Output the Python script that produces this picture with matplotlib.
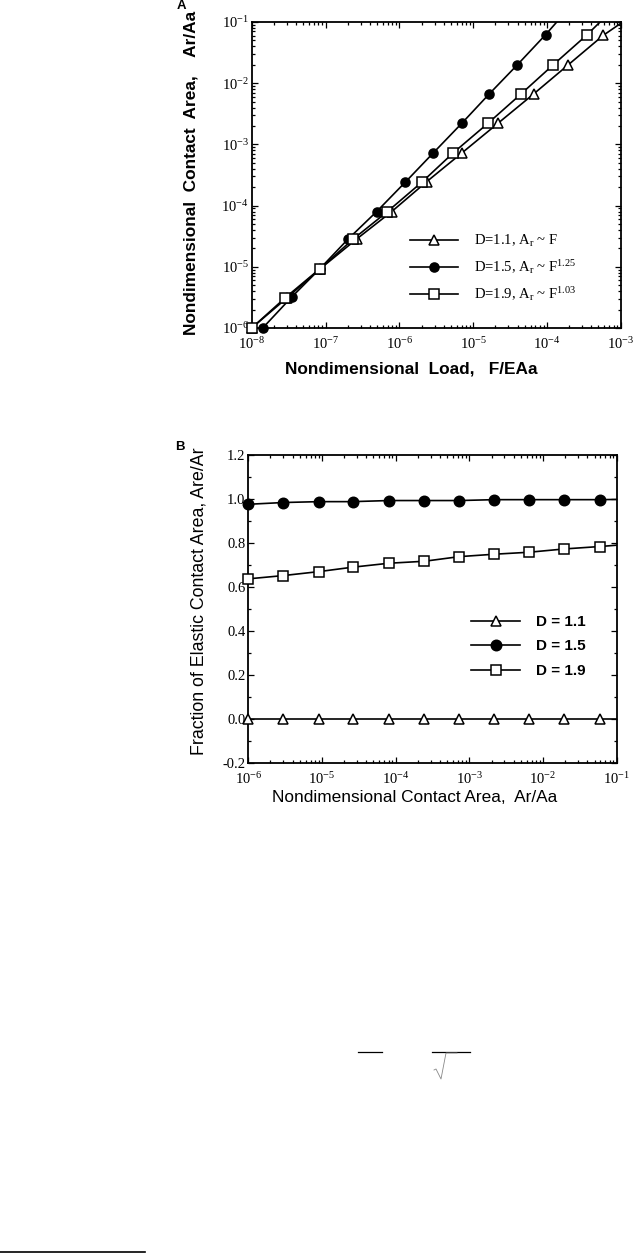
import numpy as np
import matplotlib
matplotlib.use('Agg')
import matplotlib.pyplot as plt
from matplotlib.lines import Line2D
from matplotlib.ticker import LogLocator, MultipleLocator, FormatStrFormatter, NullFormatter

plt.rcParams['font.family'] = 'Liberation Serif'
plt.rcParams['mathtext.fontset'] = 'custom'
plt.rcParams['mathtext.rm'] = 'Liberation Serif'
plt.rcParams['mathtext.it'] = 'Liberation Serif:italic'
plt.rcParams['axes.unicode_minus'] = False

# ---- Panel A data: contact area vs load ----
load_d11 = [1e-8, 3e-8, 8.5e-8, 2.65e-7, 7.9e-7, 2.35e-6, 7.0e-6, 2.2e-5, 6.6e-5, 1.95e-4, 5.8e-4]
area_d11 = [1e-6, 3.1e-6, 9.3e-6, 2.85e-5, 8.0e-5, 2.46e-4, 7.2e-4, 2.24e-3, 6.66e-3, 2.0e-2, 6.05e-2]
load_d15 = [1.41e-8, 3.48e-8, 8.4e-8, 2.0e-7, 4.94e-7, 1.2e-6, 2.9e-6, 7.0e-6, 1.64e-5, 3.98e-5, 9.6e-5]
area_d15 = [1e-6, 3.2e-6, 9.3e-6, 2.8e-5, 8.0e-5, 2.4e-4, 7.3e-4, 2.2e-3, 6.6e-3, 2.0e-2, 6.2e-2]
load_d19 = [1e-8, 2.83e-8, 8.4e-8, 2.34e-7, 6.75e-7, 2.01e-6, 5.4e-6, 1.61e-5, 4.42e-5, 1.22e-4, 3.46e-4]
area_d19 = [1e-6, 3.1e-6, 9.3e-6, 2.8e-5, 7.8e-5, 2.4e-4, 7.3e-4, 2.24e-3, 6.6e-3, 2.0e-2, 6.1e-2]
# where each fitted line leaves the frame
end_load = {'1.1': 1e-3, '1.5': 1.36e-4, '1.9': 5.25e-4}
end_area = {'1.1': 9.5e-2, '1.5': 1e-1, '1.9': 1e-1}

# ---- Panel B data: elastic fraction vs contact area ----
area_b = [1e-6, 3e-6, 9.1e-6, 2.6e-5, 8.1e-5, 2.45e-4, 7.3e-4, 2.18e-3, 6.46e-3, 1.95e-2, 5.9e-2]
frac_d11 = [0.0] * 11
frac_d15 = [0.976, 0.984, 0.988, 0.988, 0.993, 0.993, 0.993, 0.997, 0.997, 0.997, 0.997]
frac_d19 = [0.637, 0.652, 0.670, 0.690, 0.708, 0.717, 0.738, 0.749, 0.758, 0.773, 0.784]
end_frac = {'1.1': 0.0, '1.5': 0.998, '1.9': 0.79}

labels_a = [r'D=1.1, $\mathrm{A_r}$ ~ F',
            r'D=1.5, $\mathrm{A_r}$ ~ F$^{1.25}$',
            r'D=1.9, $\mathrm{A_r}$ ~ F$^{1.03}$']
labels_b = ['D = 1.1', 'D = 1.5', 'D = 1.9']

styles = {'1.1': dict(marker='^', mfc='white'),
          '1.5': dict(marker='o', mfc='black'),
          '1.9': dict(marker='s', mfc='white')}

fig = plt.figure(figsize=(6.42, 12.53), dpi=100)
W, H = 642, 1253


def px_axes(l, t, r, b):
    return fig.add_axes([l / W, 1 - b / H, (r - l) / W, (b - t) / H])


def style_ticks(ax):
    ax.tick_params(which='both', direction='in', top=True, right=True, width=0.9,
                   labelsize=10.5)
    ax.tick_params(which='major', length=4.5)
    ax.tick_params(which='minor', length=2.5)
    ax.tick_params(axis='x', pad=6)
    ax.tick_params(axis='y', pad=2)
    for s in ax.spines.values():
        s.set_linewidth(1.3)


# ---------------- Panel A ----------------
ax1 = px_axes(251.7, 22, 620.7, 328)
ax1.set_xscale('log')
ax1.set_yscale('log')
ax1.set_xlim(1e-8, 1e-3)
ax1.set_ylim(1e-6, 1e-1)

handles_a = []
for key, xs, ys, ms in [('1.1', load_d11, area_d11, 6.5),
                        ('1.5', load_d15, area_d15, 6.5),
                        ('1.9', load_d19, area_d19, 6.5)]:
    ax1.plot(xs + [end_load[key]], ys + [end_area[key]], color='black', lw=1.2, zorder=2)
    ax1.plot(xs, ys, ls='none', color='black', mec='black', mew=1.1, ms=ms,
             clip_on=False, zorder=3, **styles[key])
    handles_a.append(Line2D([], [], color='black', lw=1.2, mec='black', mew=1.1, ms=ms,
                            **styles[key]))

ax1.xaxis.set_major_locator(LogLocator(base=10, numticks=10))
ax1.yaxis.set_major_locator(LogLocator(base=10, numticks=10))
ax1.xaxis.set_minor_locator(LogLocator(base=10, subs=np.arange(2, 10), numticks=20))
ax1.yaxis.set_minor_locator(LogLocator(base=10, subs=np.arange(2, 10), numticks=20))
ax1.xaxis.set_minor_formatter(NullFormatter())
ax1.yaxis.set_minor_formatter(NullFormatter())
style_ticks(ax1)

ax1.set_xlabel('Nondimensional  Load,   F/EAa', family='Liberation Sans',
               weight='bold', fontsize=12.4)
ax1.set_ylabel('Nondimensional  Contact  Area,    Ar/Aa', family='Liberation Sans',
               weight='bold', fontsize=12.4)
ax1.xaxis.set_label_coords(0.432, -0.108)
ax1.yaxis.set_label_coords(-0.143, 0.508)

ax1.legend(handles_a, labels_a, loc='upper left', bbox_to_anchor=(0.41, 0.335),
           frameon=False, fontsize=10.5, handlelength=3.3, handletextpad=1.1,
           labelspacing=0.62, borderpad=0)

fig.text(177 / W, 1 - 6 / H, 'A', family='Liberation Sans', weight='bold',
         fontsize=9.5, ha='left', va='center')

# ---------------- Panel B ----------------
ax2 = px_axes(248.3, 455, 616.7, 763)
ax2.set_xscale('log')
ax2.set_xlim(1e-6, 1e-1)
ax2.set_ylim(-0.2, 1.2)

handles_b = []
for key, ys, ms in [('1.1', frac_d11, 7), ('1.5', frac_d15, 7.5), ('1.9', frac_d19, 7.5)]:
    ax2.plot(area_b + [1e-1], ys + [end_frac[key]], color='black', lw=1.2, zorder=2)
    ax2.plot(area_b, ys, ls='none', color='black', mec='black', mew=1.1, ms=ms,
             clip_on=False, zorder=3, **styles[key])
    handles_b.append(Line2D([], [], color='black', lw=1.2, mec='black', mew=1.1, ms=ms,
                            **styles[key]))

ax2.xaxis.set_major_locator(LogLocator(base=10, numticks=10))
ax2.xaxis.set_minor_locator(LogLocator(base=10, subs=np.arange(2, 10), numticks=20))
ax2.xaxis.set_minor_formatter(NullFormatter())
ax2.yaxis.set_major_locator(MultipleLocator(0.2))
ax2.yaxis.set_minor_locator(MultipleLocator(0.1))
ax2.yaxis.set_major_formatter(FormatStrFormatter('%.1f'))
style_ticks(ax2)

ax2.set_xlabel('Nondimensional Contact Area,  Ar/Aa', family='Liberation Sans',
               fontsize=12.4)
ax2.set_ylabel('Fraction of Elastic Contact Area, Are/Ar', family='Liberation Sans',
               fontsize=12.8)
ax2.xaxis.set_label_coords(0.452, -0.088)
ax2.yaxis.set_label_coords(-0.112, 0.526)

ax2.legend(handles_b, labels_b, loc='upper left', bbox_to_anchor=(0.585, 0.505),
           frameon=False, prop=dict(family='Liberation Sans', weight='bold', size=11),
           handlelength=3.2, handletextpad=1.0, labelspacing=0.68, borderpad=0)

fig.text(175 / W, 1 - 447 / H, 'B', family='Liberation Sans', weight='bold',
         fontsize=9.5, ha='left', va='center')

# stray page marks below the figure
for (x0, y0, x1, y1, c, lw) in [(358, 1052, 382, 1052, 'black', 0.9),
                                (432, 1052, 470, 1052, 'black', 0.9),
                                (0, 1252, 145, 1252, 'black', 1.2)]:
    fig.add_artist(Line2D([x0 / W, x1 / W], [1 - y0 / H, 1 - y1 / H],
                          transform=fig.transFigure, color=c, lw=lw))
fig.add_artist(Line2D([434 / W, 436 / W, 441 / W, 446 / W, 457 / W],
                      [1 - 1070 / H, 1 - 1069 / H, 1 - 1079 / H, 1 - 1053 / H, 1 - 1053 / H],
                      transform=fig.transFigure, color='#888888', lw=0.6))

fig.savefig('out.png', dpi=100)
